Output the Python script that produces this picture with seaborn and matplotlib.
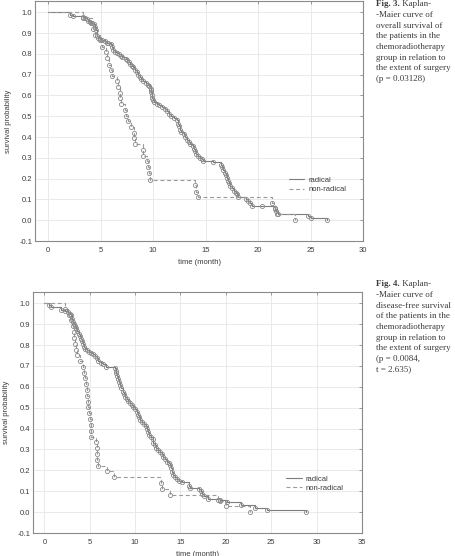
import matplotlib.pyplot as plt
import pandas as pd
import seaborn as sns
from matplotlib.lines import Line2D

sns.set_style("whitegrid")
plt.rcParams['font.family'] = ['Liberation Sans', 'DejaVu Sans']

# (time in months, survival probability)
os_radical = [(0, 1.0), (2.04, 0.989), (2.39, 0.981), (3.35, 0.975), (3.5, 0.97), (3.66, 0.966),
              (3.8, 0.958), (3.95, 0.952), (4.04, 0.95), (4.2, 0.946), (4.36, 0.943), (4.46, 0.93),
              (4.52, 0.914), (4.68, 0.888), (4.78, 0.874), (4.94, 0.87), (5.1, 0.866), (5.38, 0.863),
              (5.57, 0.853), (5.7, 0.85), (6.0, 0.847), (6.1, 0.834), (6.2, 0.82), (6.34, 0.81),
              (6.53, 0.802), (6.75, 0.8), (6.97, 0.79), (7.07, 0.783), (7.39, 0.775), (7.55, 0.77),
              (7.68, 0.76), (7.8, 0.75), (7.96, 0.743), (8.12, 0.735), (8.28, 0.724), (8.44, 0.711),
              (8.6, 0.7), (8.76, 0.69), (8.89, 0.678), (9.08, 0.668), (9.3, 0.659), (9.52, 0.652),
              (9.65, 0.643), (9.78, 0.632), (9.82, 0.624), (9.84, 0.616), (9.86, 0.6), (9.9, 0.589),
              (9.97, 0.576), (10.1, 0.568), (10.35, 0.56), (10.57, 0.552), (10.89, 0.544), (11.1, 0.534),
              (11.3, 0.523), (11.53, 0.512), (11.75, 0.5), (12.0, 0.49), (12.26, 0.48), (12.39, 0.464),
              (12.48, 0.451), (12.58, 0.435), (12.7, 0.424), (12.9, 0.416), (13.06, 0.4), (13.2, 0.388),
              (13.38, 0.376), (13.53, 0.365), (13.76, 0.355), (13.92, 0.344), (13.98, 0.333), (14.08, 0.32),
              (14.24, 0.311), (14.43, 0.301), (14.65, 0.292), (14.8, 0.284), (15.7, 0.279), (16.47, 0.265),
              (16.55, 0.254), (16.7, 0.24), (16.85, 0.228), (16.94, 0.217), (17.04, 0.204), (17.1, 0.19),
              (17.23, 0.177), (17.36, 0.164), (17.48, 0.153), (17.74, 0.142), (17.87, 0.132), (17.99, 0.124),
              (18.12, 0.113), (18.85, 0.102), (19.08, 0.092), (19.27, 0.081), (19.4, 0.07), (20.41, 0.066),
              (21.6, 0.054), (21.75, 0.045), (21.9, 0.031), (24.75, 0.02), (25.06, 0.01), (26.56, 0.0)]

os_nonradical = [(0, 1.0), (3.3, 0.972), (4.3, 0.92), (4.5, 0.89), (4.9, 0.865), (5.16, 0.834),
                 (5.54, 0.807), (5.64, 0.78), (5.83, 0.748), (6.0, 0.721), (6.11, 0.695), (6.53, 0.668),
                 (6.69, 0.641), (6.82, 0.613), (6.85, 0.586), (6.91, 0.558), (7.29, 0.531), (7.39, 0.503),
                 (7.64, 0.476), (7.87, 0.448), (8.18, 0.421), (8.22, 0.393), (8.25, 0.366), (9.0, 0.338),
                 (9.02, 0.31), (9.43, 0.283), (9.52, 0.255), (9.59, 0.228), (9.68, 0.195), (13.98, 0.167),
                 (14.08, 0.138), (14.24, 0.11), (21.3, 0.085), (21.6, 0.057), (21.8, 0.03), (23.5, 0.0)]

dfs_radical = [(0, 1.0), (0.55, 0.993), (0.7, 0.98), (1.8, 0.97), (2.3, 0.965), (2.65, 0.956),
               (2.83, 0.95), (2.9, 0.943), (3.0, 0.927), (3.12, 0.91), (3.27, 0.9), (3.38, 0.89),
               (3.5, 0.88), (3.64, 0.868), (3.79, 0.855), (3.93, 0.842), (4.08, 0.831), (4.19, 0.818),
               (4.3, 0.804), (4.37, 0.791), (4.52, 0.783), (4.74, 0.775), (4.96, 0.769), (5.18, 0.763),
               (5.4, 0.756), (5.59, 0.747), (5.77, 0.736), (5.96, 0.725), (6.21, 0.715), (6.5, 0.709),
               (6.8, 0.697), (7.8, 0.688), (7.87, 0.677), (7.9, 0.664), (7.98, 0.651), (8.09, 0.639),
               (8.2, 0.624), (8.35, 0.608), (8.49, 0.592), (8.64, 0.576), (8.79, 0.565), (8.93, 0.553),
               (9.08, 0.54), (9.26, 0.53), (9.45, 0.521), (9.63, 0.511), (9.82, 0.502), (10.04, 0.492),
               (10.18, 0.479), (10.29, 0.467), (10.4, 0.454), (10.55, 0.441), (10.74, 0.43), (11.0, 0.422),
               (11.2, 0.412), (11.36, 0.4), (11.43, 0.384), (11.54, 0.371), (11.73, 0.361), (11.95, 0.349),
               (12.0, 0.333), (12.17, 0.322), (12.32, 0.309), (12.54, 0.298), (12.76, 0.288), (12.98, 0.279),
               (13.12, 0.266), (13.27, 0.253), (13.49, 0.242), (13.68, 0.234), (13.86, 0.225), (13.97, 0.21),
               (14.04, 0.194), (14.15, 0.178), (14.37, 0.167), (14.6, 0.158), (14.89, 0.15), (15.15, 0.142),
               (15.96, 0.126), (16.07, 0.115), (17.06, 0.11), (17.24, 0.1), (17.39, 0.088), (17.54, 0.075),
               (17.98, 0.064), (19.4, 0.056), (20.1, 0.05), (21.65, 0.032), (23.2, 0.022), (24.5, 0.011),
               (28.86, 0.0)]

dfs_nonradical = [(0, 1.0), (2.3, 0.972), (2.76, 0.945), (2.9, 0.918), (3.12, 0.89), (3.27, 0.862),
                  (3.3, 0.834), (3.42, 0.806), (3.45, 0.778), (3.57, 0.75), (3.93, 0.723), (4.23, 0.695),
                  (4.38, 0.667), (4.52, 0.64), (4.6, 0.612), (4.67, 0.584), (4.7, 0.556), (4.82, 0.529),
                  (4.85, 0.501), (4.96, 0.473), (5.04, 0.445), (5.11, 0.417), (5.13, 0.39), (5.18, 0.362),
                  (5.7, 0.334), (5.75, 0.306), (5.77, 0.278), (5.85, 0.25), (5.92, 0.222), (6.95, 0.195),
                  (7.68, 0.167), (12.9, 0.139), (13.0, 0.111), (13.86, 0.083), (19.08, 0.059), (19.4, 0.055),
                  (20.0, 0.028), (22.7, 0.0)]

group_labels = ["radical", "non-radical"]

captions = [
    ("Fig. 3.", " Kaplan-", ["-Maier curve of", "overall survival of", "the patients in the",
                             "chemoradiotherapy", "group in relation to", "the extent of surgery",
                             "(p = 0.03128)"]),
    ("Fig. 4.", " Kaplan-", ["-Maier curve of", "disease-free survival", "of the patients in the",
                             "chemoradiotherapy", "group in relation to", "the extent of surgery",
                             "(p = 0.0084,", "t = 2.635)"]),
]

line_grey = "#7d7d7d"
dash_grey = "#9a9a9a"
mark_grey = "#8a8a8a"
text_grey = "#3c3c3c"
fs = 5.5

W, H = 455, 556
fig = plt.figure(figsize=(W / 100, H / 100), dpi=100)


def km_panel(rect, radical, nonradical, xmax, legend_xy):
    ax = fig.add_axes(rect)
    styles = [(radical, line_grey, "-"), (nonradical, dash_grey, (0, (3.5, 2.5)))]
    for pts, col, ls in styles:
        df = pd.DataFrame(pts, columns=["time", "surv"])
        sns.lineplot(data=df, x="time", y="surv", ax=ax, estimator=None, sort=False,
                     drawstyle="steps-post", color=col, linestyle=ls, linewidth=0.8)
        sns.lineplot(data=df.iloc[1:], x="time", y="surv", ax=ax, estimator=None, sort=False,
                     color=mark_grey, linestyle="none", marker="o", markersize=3.0,
                     markerfacecolor="none", markeredgecolor=mark_grey, markeredgewidth=0.6)
    ax.set_xlim(-1.25, xmax)
    ax.set_ylim(-0.1, 1.054)
    ax.set_xticks(range(0, int(xmax) + 1, 5))
    ax.set_yticks([i / 10 for i in range(-1, 11)])
    ax.set_yticklabels([f"{i / 10:.1f}" for i in range(-1, 11)])
    ax.grid(color="#e6e6e6", linewidth=0.6)
    for sp in ax.spines.values():
        sp.set_color("#8a8a8a")
        sp.set_linewidth(0.8)
    ax.tick_params(direction="in", length=2.5, width=0.6, color="#8a8a8a",
                   top=True, right=True, labelsize=fs, labelcolor=text_grey)
    ax.tick_params(axis="x", pad=4.5)
    ax.tick_params(axis="y", pad=2)
    ax.set_xlabel("time (month)", fontsize=fs, color=text_grey, labelpad=3.5)
    ax.set_ylabel("survival probability", fontsize=fs, color=text_grey, labelpad=5)
    handles = [Line2D([], [], color=line_grey, lw=0.8),
               Line2D([], [], color=dash_grey, lw=0.8, ls=(0, (3.5, 2.5)))]
    ax.legend(handles, group_labels, loc="upper left", bbox_to_anchor=legend_xy, frameon=False,
              fontsize=fs, labelcolor=text_grey, borderpad=0, borderaxespad=0,
              handlelength=2.0, handletextpad=0.5, labelspacing=0.25)
    return ax


km_panel([35 / W, 1 - 241 / H, 328 / W, 240 / H], os_radical, os_nonradical, 30.0, (0.775, 0.268))
km_panel([33 / W, 1 - 533 / H, 329 / W, 241 / H], dfs_radical, dfs_nonradical, 35.0, (0.77, 0.24))

cap_font = dict(family=["Liberation Serif", "DejaVu Serif"], fontsize=6.5, color=text_grey)
for (bold, rest, lines), y0 in zip(captions, [4.5, 284.5]):
    t = fig.text(376 / W, 1 - y0 / H, bold, weight="bold", va="center", ha="left", **cap_font)
    plt.annotate(rest, xy=(1, 0.5), xycoords=t, va="center", ha="left", **cap_font)
    for i, ln in enumerate(lines):
        fig.text(376 / W, 1 - (y0 + 10.6 * (i + 1)) / H, ln, va="center", ha="left", **cap_font)

plt.savefig("out.png", dpi=100)
